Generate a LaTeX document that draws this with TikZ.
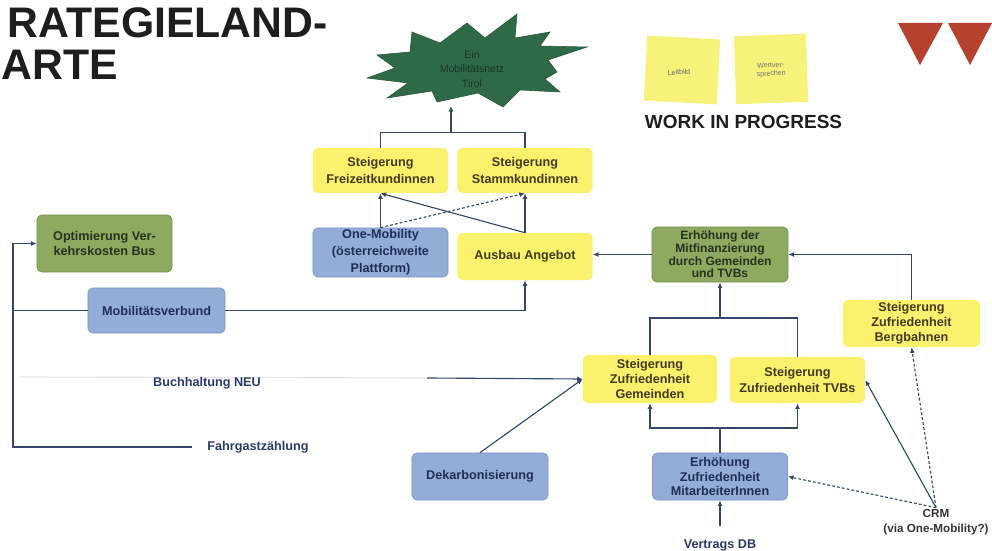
\documentclass[tikz,border=0pt]{standalone}
\usepackage{fontspec}
\setmainfont{Liberation Sans}
\usetikzlibrary{arrows.meta}
\definecolor{yfill}{HTML}{FAF16C}
\definecolor{ytext}{HTML}{463A1C}
\definecolor{bfill}{HTML}{93ACD8}
\definecolor{bedge}{HTML}{7F98C9}
\definecolor{btext}{HTML}{1F2E58}
\definecolor{gfill}{HTML}{8DAA60}
\definecolor{gedge}{HTML}{7A964F}
\definecolor{gtext}{HTML}{26321E}
\definecolor{cline}{HTML}{34476B}
\definecolor{ltext}{HTML}{2B3A6B}
\definecolor{starfill}{HTML}{2F6A48}
\definecolor{startext}{HTML}{1A3526}
\definecolor{notefill}{HTML}{F7F27A}
\definecolor{trired}{HTML}{B5412F}
\definecolor{titletext}{HTML}{1E1E1E}
\tikzset{
  boxbase/.style={rounded corners=0.12cm, align=center, inner sep=1pt,
    font=\fontsize{9}{10.5}\selectfont\bfseries},
  ybox/.style={boxbase, fill=yfill, text=ytext},
  bbox/.style={boxbase, fill=bfill, draw=bedge, line width=0.5pt, text=btext},
  gbox/.style={boxbase, fill=gfill, draw=gedge, line width=0.5pt, text=gtext},
  leadwide/.style={font=\fontsize{9}{12}\selectfont\bfseries},
  leadtight/.style={font=\fontsize{8.6}{9}\selectfont\bfseries},
  conn/.style={draw=cline, line width=0.8pt},
  arr/.style={conn, -{Latex[length=4pt,width=3.6pt]}},
  dashconn/.style={arr, dash pattern=on 2pt off 1.5pt},
  faintline/.style={draw=gray!22, line width=0.8pt},
  lab/.style={font=\fontsize{9}{10}\selectfont\bfseries, text=ltext, inner sep=1pt},
  note/.style={fill=notefill, inner sep=0pt, align=center, text=black!65,
    font=\fontsize{5}{6}\selectfont},
  titlestyle/.style={font=\fontsize{30.4}{32}\selectfont\bfseries, text=titletext, inner sep=0pt},
}
\begin{document}
\begin{tikzpicture}[x=0.025cm,y=-0.025cm]
\useasboundingbox (0,0) rectangle (992,551);

% title
\node[titlestyle, anchor=base east] (t1) at (328,38) {RATEGIELAND-};
\node[titlestyle, anchor=base west] (t2) at (1,80) {ARTE};

% starburst
\fill[starfill, draw=starfill!80!black, line width=0.4pt]
  (367,78) -- (395,68) -- (377,55) -- (410,52) -- (412,32) -- (440,43)
  -- (467,23) -- (485,38) -- (517,14) -- (515,38) -- (550,32) -- (540,46)
  -- (587,47) -- (548,60) -- (557,72) -- (545,79) -- (560,92) -- (520,90)
  -- (503,107) -- (478,93) -- (437,102) -- (432,91) -- (387,98) -- (408,83)
  -- cycle;
\node[align=center, text=startext, font=\fontsize{7.5}{10.5}\selectfont, inner sep=0pt] (startxt) at (472,69) {Ein\\Mobilitätsnetz\\Tirol};
\coordinate (sb) at (451,106);

% sticky notes
\node[note, rotate=-3, minimum width=1.825cm, minimum height=1.625cm] (n1) at (682,70) {};
\node[note, rotate=4, text=black!60] (n1t) at (679,72) {Leitbild};
\node[note, rotate=2, minimum width=1.8cm, minimum height=1.7cm] (n2) at (771,69) {};
\node[note, rotate=3, text=black!55] (n2t) at (771,70) {Wertver-\\sprechen};
\node[font=\fontsize{13.5}{15}\selectfont\bfseries, text=titletext, inner sep=0pt] (wip) at (743.5,121.5) {WORK IN PROGRESS};

% triangles
\fill[trired] (898,23) -- (943,23) -- (920,65) -- cycle;
\fill[trired] (948,23) -- (992,23) -- (970,65) -- cycle;

% faint Buchhaltung line (behind the label)
\coordinate (bl) at (20,377);
\coordinate (br) at (427,378);
\draw[faintline] (bl) -- (br);

% boxes
\node[ybox, leadwide, minimum width=3.375cm, minimum height=1.125cm] (frei) at (380.5,170.5) {Steigerung\\Freizeitkundinnen};
\node[ybox, leadwide, minimum width=3.375cm, minimum height=1.125cm] (stamm) at (525,170.5) {Steigerung\\Stammkundinnen};
\node[bbox, leadwide, minimum width=3.375cm, minimum height=1.225cm] (onemob) at (380.5,252.5) {One-Mobility\\(österreichweite\\Plattform)};
\node[ybox, minimum width=3.375cm, minimum height=1.175cm] (ausbau) at (525,256.5) {Ausbau Angebot};
\node[gbox, minimum width=3.375cm, minimum height=1.425cm] (opt) at (104.5,243.5) {Optimierung Ver-\\kehrskosten Bus};
\node[bbox, minimum width=3.425cm, minimum height=1.125cm] (mob) at (156.5,310.5) {Mobilitätsverbund};
\node[gbox, leadtight, minimum width=3.4cm, minimum height=1.375cm] (erh) at (720,254.5) {Erhöhung der\\Mitfinanzierung\\durch Gemeinden\\und TVBs};
\node[ybox, minimum width=3.425cm, minimum height=1.175cm] (berg) at (911.5,323.5) {Steigerung\\Zufriedenheit\\Bergbahnen};
\node[ybox, minimum width=3.35cm, minimum height=1.2cm] (gem) at (650,379) {Steigerung\\Zufriedenheit\\Gemeinden};
\node[ybox, leadwide, minimum width=3.375cm, minimum height=1.15cm] (tvb) at (797.5,380) {Steigerung\\Zufriedenheit TVBs};
\node[bbox, minimum width=3.4cm, minimum height=1.175cm] (dek) at (480,476.5) {Dekarbonisierung};
\node[bbox, minimum width=3.375cm, minimum height=1.175cm] (mit) at (720,476.5) {Erhöhung\\Zufriedenheit\\MitarbeiterInnen};

% labels
\node[lab] (buch) at (207,383) {Buchhaltung NEU};
\node[lab] (fahr) at (258,447) {Fahrgastzählung};
\node[lab] (vdb) at (720,545) {Vertrags DB};
\node[align=center, font=\fontsize{8.3}{10.5}\selectfont\bfseries, text=black!80, inner sep=1pt] (crm) at (936,522) {CRM\\(via One-Mobility?)};

% connectors to starburst
\coordinate (j0) at (451,133);
\draw[conn] (frei.north) -- ++(0,-15) -| (stamm.north);
\draw[arr] (j0) -- (sb);

% cross connectors
\draw[arr] (onemob.north) -- (frei.south);
\draw[dashconn] (onemob.north) -- (stamm.south);
\draw[arr] (ausbau.north) -- (stamm.south);
\draw[arr] (ausbau.north) -- (frei.south);

% Mitfinanzierung -> Ausbau
\draw[arr] (erh.west) -- (erh.west -| ausbau.east);
% Mobilitaetsverbund -> Ausbau
\draw[arr] (mob.east) -| (ausbau.south);

% left bracket
\coordinate (lc) at (13,445);
\draw[arr, shorten <=0.35cm] (fahr.west) -- (fahr.west -| lc) |- (opt.west);
\draw[conn] (mob.west) -- (mob.west -| lc);

% Buchhaltung arrow
\draw[arr] (br) -- (gem.west);

% Dekarbonisierung
\draw[arr] (dek.north) -- (gem.west);

% Gemeinden/TVBs -> Mitfinanzierung
\coordinate (j1) at (720,318);
\draw[conn] (gem.north) |- (j1) -| (tvb.north);
\draw[arr] (j1) -- (erh.south);

% Bergbahnen -> Mitfinanzierung
\draw[arr] (berg.north) |- (erh.east);

% Mitarbeiter -> Gemeinden / TVBs
\coordinate (j2) at (720,428);
\draw[conn] (mit.north) -- (j2);
\draw[arr] (j2) -| (gem.south);
\draw[arr] (j2) -| (tvb.south);

% Vertrags DB
\draw[arr, shorten <=0.3cm] (vdb.north) -- (mit.south);

% CRM
\draw[arr] (crm.north) -- (tvb.east);
\draw[dashconn] (crm.north) -- (berg.south);
\draw[dashconn] (crm.north) -- (mit.east);
\end{tikzpicture}
\end{document}
